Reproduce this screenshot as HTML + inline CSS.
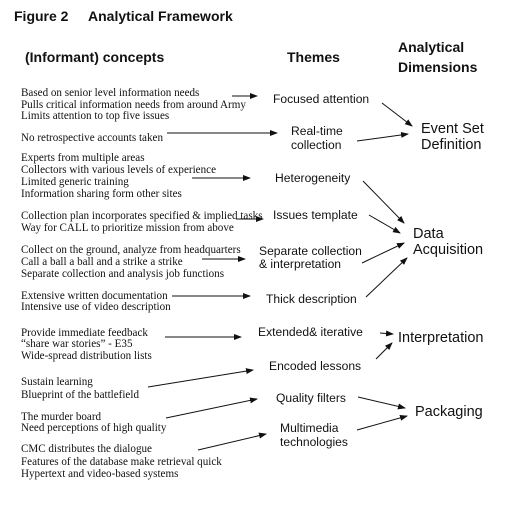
<!DOCTYPE html>
<html><head><meta charset="utf-8"><style>
html,body{margin:0;padding:0;background:#fff;}
svg{display:block}
.s{font-family:"Liberation Serif",serif;font-size:11.1px;fill:#111}
.t{font-family:"Liberation Sans",sans-serif;font-size:12.1px;fill:#111}
.d{font-family:"Liberation Sans",sans-serif;font-size:14.5px;fill:#111}
.h{font-family:"Liberation Sans",sans-serif;font-size:14px;font-weight:bold;fill:#111}
line{stroke:#111;stroke-width:1;marker-end:url(#a)}
</style></head><body>
<svg width="530" height="521" viewBox="0 0 530 521" xmlns="http://www.w3.org/2000/svg">
<defs><marker id="a" markerWidth="8" markerHeight="6" refX="7" refY="3" orient="auto" markerUnits="userSpaceOnUse"><path d="M0,0 L8,3 L0,6 z" fill="#111"/></marker></defs>
<text class="h" x="14" y="21">Figure 2</text>
<text class="h" x="88" y="21">Analytical Framework</text>
<text class="h" x="25" y="62" style="font-weight:600">(Informant) concepts</text>
<text class="h" x="287" y="62">Themes</text>
<text class="h" x="398" y="52">Analytical</text>
<text class="h" x="398" y="72">Dimensions</text>

<text class="s" x="21" y="96">Based on senior level information needs</text>
<text class="s" x="21" y="108">Pulls critical information needs from around Army</text>
<text class="s" x="21" y="119">Limits attention to top five issues</text>
<text class="s" x="21" y="141">No retrospective accounts taken</text>
<text class="s" x="21" y="161">Experts from multiple areas</text>
<text class="s" x="21" y="173">Collectors with various levels of experience</text>
<text class="s" x="21" y="185">Limited generic training</text>
<text class="s" x="21" y="197">Information sharing form other sites</text>
<text class="s" x="21" y="219">Collection plan incorporates specified &amp; implied tasks</text>
<text class="s" x="21" y="231">Way for CALL to prioritize mission from above</text>
<text class="s" x="21" y="253">Collect on the ground, analyze from headquarters</text>
<text class="s" x="21" y="265">Call a ball a ball and a strike a strike</text>
<text class="s" x="21" y="277">Separate collection and analysis job functions</text>
<text class="s" x="21" y="299">Extensive written documentation</text>
<text class="s" x="21" y="310">Intensive use of video description</text>
<text class="s" x="21" y="336">Provide immediate feedback</text>
<text class="s" x="21" y="347">“share war stories” - E35</text>
<text class="s" x="21" y="359">Wide-spread distribution lists</text>
<text class="s" x="21" y="385">Sustain learning</text>
<text class="s" x="21" y="398">Blueprint of the battlefield</text>
<text class="s" x="21" y="420">The murder board</text>
<text class="s" x="21" y="431">Need perceptions of high quality</text>
<text class="s" x="21" y="452">CMC distributes the dialogue</text>
<text class="s" x="21" y="465">Features of the database make retrieval quick</text>
<text class="s" x="21" y="477">Hypertext and video-based systems</text>

<text class="t" x="273" y="103">Focused attention</text>
<text class="t" x="291" y="135">Real-time</text>
<text class="t" x="291" y="149">collection</text>
<text class="t" x="275" y="182">Heterogeneity</text>
<text class="t" x="273" y="219">Issues template</text>
<text class="t" x="259" y="255">Separate collection</text>
<text class="t" x="259" y="268">&amp; interpretation</text>
<text class="t" x="266" y="303">Thick description</text>
<text class="t" x="258" y="336">Extended&amp; iterative</text>
<text class="t" x="269" y="370">Encoded lessons</text>
<text class="t" x="276" y="402">Quality filters</text>
<text class="t" x="280" y="432">Multimedia</text>
<text class="t" x="280" y="446">technologies</text>

<text class="d" x="421" y="133">Event Set</text>
<text class="d" x="421" y="149">Definition</text>
<text class="d" x="413" y="238">Data</text>
<text class="d" x="413" y="254">Acquisition</text>
<text class="d" x="398" y="342">Interpretation</text>
<text class="d" x="415" y="416">Packaging</text>

<line x1="232" y1="96" x2="257" y2="96"/>
<line x1="167" y1="133" x2="277" y2="133"/>
<line x1="382" y1="103" x2="412" y2="126"/>
<line x1="357" y1="141" x2="408" y2="134"/>
<line x1="192" y1="178" x2="250" y2="178"/>
<line x1="363" y1="181" x2="404" y2="223"/>
<line x1="236" y1="219" x2="263" y2="219"/>
<line x1="369" y1="215" x2="400" y2="233"/>
<line x1="202" y1="259" x2="245" y2="259"/>
<line x1="362" y1="263" x2="404" y2="243"/>
<line x1="172" y1="296" x2="250" y2="296"/>
<line x1="366" y1="297" x2="407" y2="258"/>
<line x1="165" y1="337" x2="241" y2="337"/>
<line x1="380" y1="333" x2="393" y2="334"/>
<line x1="376" y1="359" x2="392" y2="343"/>
<line x1="148" y1="387" x2="253" y2="370"/>
<line x1="166" y1="418" x2="257" y2="399"/>
<line x1="358" y1="397" x2="405" y2="408"/>
<line x1="198" y1="450" x2="266" y2="434"/>
<line x1="357" y1="430" x2="407" y2="416"/>
</svg>
</body></html>
